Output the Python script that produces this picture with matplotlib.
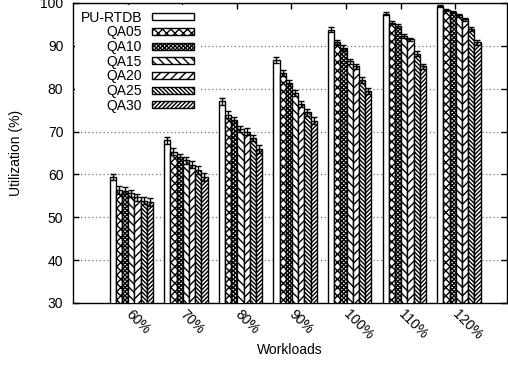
import numpy as np
import matplotlib
matplotlib.use("Agg")
import matplotlib.pyplot as plt
from matplotlib.patches import Patch

plt.rcParams['font.family'] = ['Liberation Sans', 'DejaVu Sans']
plt.rcParams['hatch.linewidth'] = 1.0

workloads = ["60%", "70%", "80%", "90%", "100%", "110%", "120%"]
series_names = ["PU-RTDB", "QA05", "QA10", "QA15", "QA20", "QA25", "QA30"]

pu_rtdb = [59.4, 68.0, 77.1, 86.6, 93.8, 97.5, 99.3]
qa05 = [56.4, 65.3, 73.9, 83.6, 90.8, 95.4, 98.4]
qa10 = [56.2, 64.0, 72.7, 81.4, 89.5, 94.6, 97.9]
qa15 = [55.6, 63.3, 70.6, 79.0, 86.4, 92.3, 97.1]
qa20 = [54.7, 62.3, 70.0, 76.5, 85.2, 91.5, 96.2]
qa25 = [53.9, 61.0, 68.5, 74.5, 82.1, 88.2, 93.9]
qa30 = [53.5, 59.4, 66.0, 72.5, 79.5, 85.2, 90.8]

pu_rtdb_err = [0.8, 0.8, 0.8, 0.7, 0.6, 0.3, 0.2]
qa05_err = [0.9, 0.8, 0.8, 0.7, 0.6, 0.3, 0.3]
qa10_err = [0.8, 0.8, 0.7, 0.7, 0.6, 0.4, 0.3]
qa15_err = [0.8, 0.8, 0.8, 0.7, 0.6, 0.4, 0.3]
qa20_err = [0.8, 0.8, 0.8, 0.7, 0.6, 0.4, 0.3]
qa25_err = [0.9, 0.9, 0.8, 0.8, 0.7, 0.5, 0.4]
qa30_err = [0.9, 0.9, 0.9, 0.8, 0.7, 0.6, 0.5]

series = [pu_rtdb, qa05, qa10, qa15, qa20, qa25, qa30]
errors = [pu_rtdb_err, qa05_err, qa10_err, qa15_err, qa20_err, qa25_err, qa30_err]
hatches = ['', 'xxxx', 'xxxxxxxx', '\\' * 4, '/' * 4, '\\' * 8, '/' * 8]

fig = plt.figure(figsize=(5.08, 3.66), dpi=100)
ax = fig.add_axes([73 / 508, 63 / 366, 434 / 508, 300 / 366])

x = np.arange(len(workloads))
bar_w = 0.1136
cluster_left = -0.33

for k, (vals, errs, h, name) in enumerate(zip(series, errors, hatches, series_names)):
    pos = x + cluster_left + bar_w * (k + 0.5)
    ax.bar(pos, vals, width=bar_w, color='white', edgecolor='black',
           hatch=h, linewidth=1.0, zorder=3, label=name)
    ax.errorbar(pos, vals, yerr=errs, fmt='none', ecolor='black',
                elinewidth=1.0, capsize=2.5, capthick=1.0, zorder=4)

ax.set_xlim(-1.0, 6.95)
ax.set_ylim(30, 100)
ax.set_yticks(np.arange(30, 101, 10))
ax.set_xticks(x)
ax.set_xticklabels(workloads, rotation=-45, ha='left', va='center',
                   rotation_mode='anchor')

ax.grid(axis='y', linestyle=(0, (1, 2)), color='#777777', linewidth=0.9, zorder=0)
ax.set_axisbelow(True)

ax.tick_params(axis='both', direction='in', length=4, width=1.0,
               top=True, right=True, labelsize=10)
ax.tick_params(axis='x', pad=6.5)
ax.tick_params(axis='y', pad=7)
for sp in ax.spines.values():
    sp.set_linewidth(1.0)

ax.set_xlabel('Workloads', fontsize=10, labelpad=0.5)
ax.set_ylabel('Utilization (%)', fontsize=10, labelpad=12)

handles = [Patch(facecolor='white', edgecolor='black', hatch=h, linewidth=1.0)
           for h in hatches]
leg = ax.legend(handles, series_names, loc='upper left',
                bbox_to_anchor=(0.0, 1.0), fontsize=10, markerfirst=False,
                handlelength=3.05, handleheight=0.4, handletextpad=0.7,
                labelspacing=0.05, borderpad=0.4, borderaxespad=0.15,
                frameon=True, fancybox=False, framealpha=1.0)
leg.get_frame().set_edgecolor('none')
leg.get_frame().set_linewidth(0)
leg.set_zorder(5)

fig.savefig('out.png', dpi=100)
